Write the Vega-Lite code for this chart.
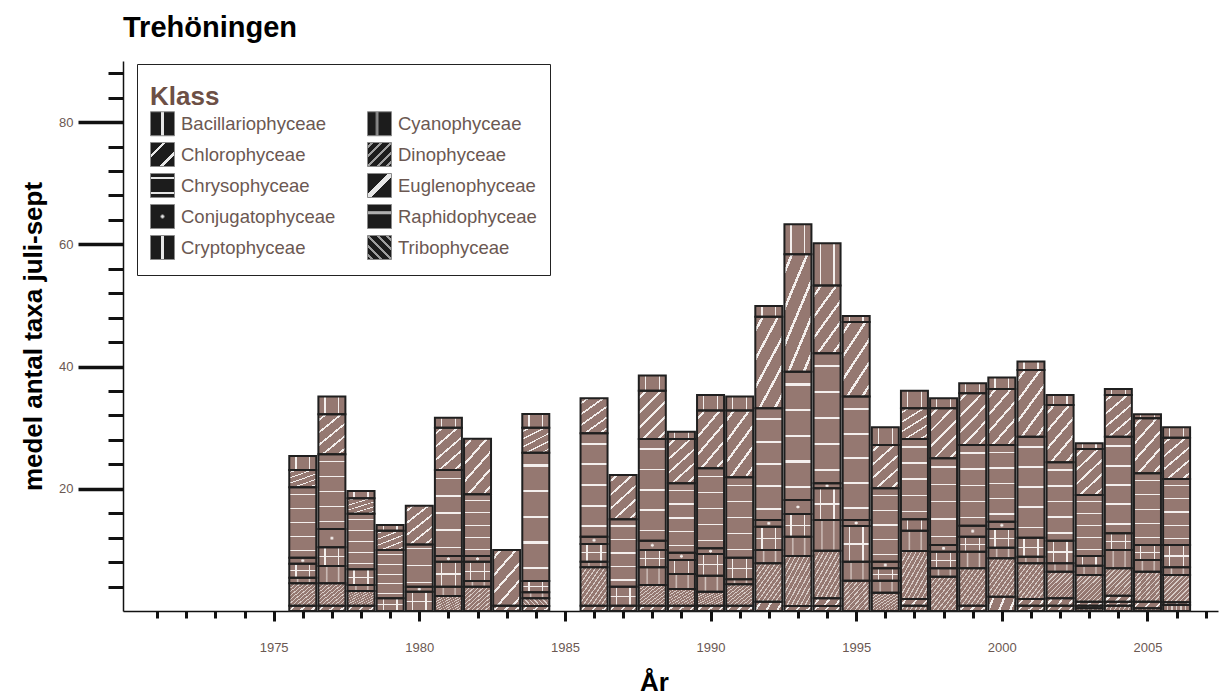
{
  "$schema": "https://vega.github.io/schema/vega-lite/v6.json",
  "autosize": {"type": "none"},
  "width": 1095,
  "height": 550,
  "padding": {"left": 123, "top": 61, "right": 2, "bottom": 84},
  "background": "#ffffff",
  "config": {"view": {"stroke": null}, "font": "Liberation Sans"},
  "title": {"text": "Trehöningen", "anchor": "start", "frame": "group", "font": "Liberation Sans", "fontSize": 29, "fontWeight": "bold", "color": "#000000", "offset": 18},
  "data": {"values": [
    {"year":1976,"klass":"Bacillariophyceae","taxa":2.29},{"year":1976,"klass":"Chlorophyceae","taxa":2.84},{"year":1976,"klass":"Chrysophyceae","taxa":11.51},{"year":1976,"klass":"Conjugatophyceae","taxa":0.98},{"year":1976,"klass":"Cryptophyceae","taxa":2.29},{"year":1976,"klass":"Cyanophyceae","taxa":0.93},{"year":1976,"klass":"Dinophyceae","taxa":3.66},{"year":1976,"klass":"Euglenophyceae","taxa":0.87},
    {"year":1977,"klass":"Bacillariophyceae","taxa":2.89},{"year":1977,"klass":"Chlorophyceae","taxa":6.55},{"year":1977,"klass":"Chrysophyceae","taxa":12.22},{"year":1977,"klass":"Conjugatophyceae","taxa":3.0},{"year":1977,"klass":"Cryptophyceae","taxa":3.05},{"year":1977,"klass":"Cyanophyceae","taxa":2.84},{"year":1977,"klass":"Dinophyceae","taxa":3.66},{"year":1977,"klass":"Euglenophyceae","taxa":0.87},
    {"year":1978,"klass":"Bacillariophyceae","taxa":1.2},{"year":1978,"klass":"Chlorophyceae","taxa":2.51},{"year":1978,"klass":"Chrysophyceae","taxa":9.11},{"year":1978,"klass":"Cryptophyceae","taxa":2.56},{"year":1978,"klass":"Cyanophyceae","taxa":0.99},{"year":1978,"klass":"Dinophyceae","taxa":2.4},{"year":1978,"klass":"Euglenophyceae","taxa":0.87},
    {"year":1979,"klass":"Bacillariophyceae","taxa":0.93},{"year":1979,"klass":"Chlorophyceae","taxa":3.17},{"year":1979,"klass":"Chrysophyceae","taxa":7.91},{"year":1979,"klass":"Cryptophyceae","taxa":2.07},
    {"year":1980,"klass":"Chlorophyceae","taxa":6.34},{"year":1980,"klass":"Chrysophyceae","taxa":6.92},{"year":1980,"klass":"Conjugatophyceae","taxa":0.82},{"year":1980,"klass":"Cryptophyceae","taxa":3.16},
    {"year":1981,"klass":"Bacillariophyceae","taxa":1.64},{"year":1981,"klass":"Chlorophyceae","taxa":6.92},{"year":1981,"klass":"Chrysophyceae","taxa":14.08},{"year":1981,"klass":"Conjugatophyceae","taxa":0.93},{"year":1981,"klass":"Cryptophyceae","taxa":4.09},{"year":1981,"klass":"Cyanophyceae","taxa":1.53},{"year":1981,"klass":"Dinophyceae","taxa":2.45},
    {"year":1982,"klass":"Chlorophyceae","taxa":9.11},{"year":1982,"klass":"Chrysophyceae","taxa":10.09},{"year":1982,"klass":"Conjugatophyceae","taxa":0.93},{"year":1982,"klass":"Cryptophyceae","taxa":3.16},{"year":1982,"klass":"Cyanophyceae","taxa":0.93},{"year":1982,"klass":"Dinophyceae","taxa":3.98},
    {"year":1983,"klass":"Chlorophyceae","taxa":9.11},{"year":1983,"klass":"Euglenophyceae","taxa":0.87},
    {"year":1984,"klass":"Bacillariophyceae","taxa":2.24},{"year":1984,"klass":"Chlorophyceae","taxa":4.09},{"year":1984,"klass":"Chrysophyceae","taxa":21.0},{"year":1984,"klass":"Cryptophyceae","taxa":1.85},{"year":1984,"klass":"Cyanophyceae","taxa":0.99},{"year":1984,"klass":"Dinophyceae","taxa":1.25},{"year":1984,"klass":"Euglenophyceae","taxa":0.82},
    {"year":1986,"klass":"Chlorophyceae","taxa":5.73},{"year":1986,"klass":"Chrysophyceae","taxa":16.91},{"year":1986,"klass":"Conjugatophyceae","taxa":1.2},{"year":1986,"klass":"Cryptophyceae","taxa":2.9},{"year":1986,"klass":"Cyanophyceae","taxa":0.92},{"year":1986,"klass":"Dinophyceae","taxa":6.28},{"year":1986,"klass":"Euglenophyceae","taxa":0.87},
    {"year":1987,"klass":"Chlorophyceae","taxa":7.26},{"year":1987,"klass":"Chrysophyceae","taxa":11.02},{"year":1987,"klass":"Cryptophyceae","taxa":3.11},{"year":1987,"klass":"Euglenophyceae","taxa":0.87},
    {"year":1988,"klass":"Bacillariophyceae","taxa":2.46},{"year":1988,"klass":"Chlorophyceae","taxa":7.91},{"year":1988,"klass":"Chrysophyceae","taxa":16.64},{"year":1988,"klass":"Conjugatophyceae","taxa":1.53},{"year":1988,"klass":"Cryptophyceae","taxa":2.83},{"year":1988,"klass":"Cyanophyceae","taxa":2.89},{"year":1988,"klass":"Dinophyceae","taxa":3.39},{"year":1988,"klass":"Euglenophyceae","taxa":0.87},
    {"year":1989,"klass":"Bacillariophyceae","taxa":1.2},{"year":1989,"klass":"Chlorophyceae","taxa":7.25},{"year":1989,"klass":"Chrysophyceae","taxa":11.35},{"year":1989,"klass":"Conjugatophyceae","taxa":1.2},{"year":1989,"klass":"Cryptophyceae","taxa":2.29},{"year":1989,"klass":"Cyanophyceae","taxa":2.46},{"year":1989,"klass":"Dinophyceae","taxa":2.73},{"year":1989,"klass":"Euglenophyceae","taxa":0.87},
    {"year":1990,"klass":"Bacillariophyceae","taxa":2.56},{"year":1990,"klass":"Chlorophyceae","taxa":9.44},{"year":1990,"klass":"Chrysophyceae","taxa":13.09},{"year":1990,"klass":"Conjugatophyceae","taxa":0.93},{"year":1990,"klass":"Cryptophyceae","taxa":3.55},{"year":1990,"klass":"Cyanophyceae","taxa":2.62},{"year":1990,"klass":"Dinophyceae","taxa":2.29},{"year":1990,"klass":"Euglenophyceae","taxa":0.87},
    {"year":1991,"klass":"Bacillariophyceae","taxa":2.29},{"year":1991,"klass":"Chlorophyceae","taxa":10.91},{"year":1991,"klass":"Chrysophyceae","taxa":13.15},{"year":1991,"klass":"Cryptophyceae","taxa":3.55},{"year":1991,"klass":"Cyanophyceae","taxa":0.82},{"year":1991,"klass":"Dinophyceae","taxa":3.49},{"year":1991,"klass":"Euglenophyceae","taxa":0.87},
    {"year":1992,"klass":"Bacillariophyceae","taxa":1.75},{"year":1992,"klass":"Chlorophyceae","taxa":15.0},{"year":1992,"klass":"Chrysophyceae","taxa":18.28},{"year":1992,"klass":"Conjugatophyceae","taxa":1.09},{"year":1992,"klass":"Cryptophyceae","taxa":3.82},{"year":1992,"klass":"Cyanophyceae","taxa":2.18},{"year":1992,"klass":"Dinophyceae","taxa":6.27},{"year":1992,"klass":"Euglenophyceae","taxa":1.53},
    {"year":1993,"klass":"Bacillariophyceae","taxa":4.93},{"year":1993,"klass":"Chlorophyceae","taxa":19.2},{"year":1993,"klass":"Chrysophyceae","taxa":21.0},{"year":1993,"klass":"Conjugatophyceae","taxa":2.29},{"year":1993,"klass":"Cryptophyceae","taxa":3.71},{"year":1993,"klass":"Cyanophyceae","taxa":3.17},{"year":1993,"klass":"Dinophyceae","taxa":8.18},{"year":1993,"klass":"Euglenophyceae","taxa":0.82},
    {"year":1994,"klass":"Bacillariophyceae","taxa":6.92},{"year":1994,"klass":"Chlorophyceae","taxa":11.08},{"year":1994,"klass":"Chrysophyceae","taxa":21.27},{"year":1994,"klass":"Conjugatophyceae","taxa":0.82},{"year":1994,"klass":"Cryptophyceae","taxa":5.19},{"year":1994,"klass":"Cyanophyceae","taxa":5.02},{"year":1994,"klass":"Dinophyceae","taxa":7.8},{"year":1994,"klass":"Euglenophyceae","taxa":1.25},{"year":1994,"klass":"Raphidophyceae","taxa":0.82},
    {"year":1995,"klass":"Bacillariophyceae","taxa":0.98},{"year":1995,"klass":"Chlorophyceae","taxa":12.22},{"year":1995,"klass":"Chrysophyceae","taxa":20.19},{"year":1995,"klass":"Conjugatophyceae","taxa":0.98},{"year":1995,"klass":"Cryptophyceae","taxa":5.84},{"year":1995,"klass":"Cyanophyceae","taxa":3.11},{"year":1995,"klass":"Dinophyceae","taxa":4.96},
    {"year":1996,"klass":"Bacillariophyceae","taxa":2.89},{"year":1996,"klass":"Chlorophyceae","taxa":7.09},{"year":1996,"klass":"Chrysophyceae","taxa":12.01},{"year":1996,"klass":"Conjugatophyceae","taxa":1.09},{"year":1996,"klass":"Cryptophyceae","taxa":2.02},{"year":1996,"klass":"Cyanophyceae","taxa":1.96},{"year":1996,"klass":"Dinophyceae","taxa":3.0},
    {"year":1997,"klass":"Bacillariophyceae","taxa":2.89},{"year":1997,"klass":"Chlorophyceae","taxa":5.02},{"year":1997,"klass":"Chrysophyceae","taxa":13.15},{"year":1997,"klass":"Cryptophyceae","taxa":1.85},{"year":1997,"klass":"Cyanophyceae","taxa":3.33},{"year":1997,"klass":"Dinophyceae","taxa":7.86},{"year":1997,"klass":"Euglenophyceae","taxa":1.09},{"year":1997,"klass":"Tribophyceae","taxa":0.87},
    {"year":1998,"klass":"Bacillariophyceae","taxa":1.64},{"year":1998,"klass":"Chlorophyceae","taxa":8.18},{"year":1998,"klass":"Chrysophyceae","taxa":14.19},{"year":1998,"klass":"Conjugatophyceae","taxa":1.09},{"year":1998,"klass":"Cryptophyceae","taxa":2.73},{"year":1998,"klass":"Cyanophyceae","taxa":1.36},{"year":1998,"klass":"Dinophyceae","taxa":5.62},
    {"year":1999,"klass":"Bacillariophyceae","taxa":1.64},{"year":1999,"klass":"Chlorophyceae","taxa":8.45},{"year":1999,"klass":"Chrysophyceae","taxa":13.2},{"year":1999,"klass":"Conjugatophyceae","taxa":1.8},{"year":1999,"klass":"Cryptophyceae","taxa":2.46},{"year":1999,"klass":"Cyanophyceae","taxa":2.73},{"year":1999,"klass":"Dinophyceae","taxa":6.11},{"year":1999,"klass":"Euglenophyceae","taxa":0.87},
    {"year":2000,"klass":"Bacillariophyceae","taxa":1.86},{"year":2000,"klass":"Chlorophyceae","taxa":9.16},{"year":2000,"klass":"Chrysophyceae","taxa":12.55},{"year":2000,"klass":"Conjugatophyceae","taxa":1.2},{"year":2000,"klass":"Cryptophyceae","taxa":3.05},{"year":2000,"klass":"Cyanophyceae","taxa":1.75},{"year":2000,"klass":"Dinophyceae","taxa":6.27},{"year":2000,"klass":"Euglenophyceae","taxa":2.35},
    {"year":2001,"klass":"Bacillariophyceae","taxa":1.37},{"year":2001,"klass":"Chlorophyceae","taxa":10.91},{"year":2001,"klass":"Chrysophyceae","taxa":16.53},{"year":2001,"klass":"Cryptophyceae","taxa":3.11},{"year":2001,"klass":"Cyanophyceae","taxa":1.09},{"year":2001,"klass":"Dinophyceae","taxa":5.84},{"year":2001,"klass":"Euglenophyceae","taxa":1.09},{"year":2001,"klass":"Raphidophyceae","taxa":0.87},
    {"year":2002,"klass":"Bacillariophyceae","taxa":1.63},{"year":2002,"klass":"Chlorophyceae","taxa":9.39},{"year":2002,"klass":"Chrysophyceae","taxa":12.82},{"year":2002,"klass":"Cryptophyceae","taxa":3.71},{"year":2002,"klass":"Cyanophyceae","taxa":1.36},{"year":2002,"klass":"Dinophyceae","taxa":4.37},{"year":2002,"klass":"Euglenophyceae","taxa":1.2},{"year":2002,"klass":"Raphidophyceae","taxa":0.87},
    {"year":2003,"klass":"Bacillariophyceae","taxa":0.93},{"year":2003,"klass":"Chlorophyceae","taxa":7.52},{"year":2003,"klass":"Chrysophyceae","taxa":9.99},{"year":2003,"klass":"Cryptophyceae","taxa":1.58},{"year":2003,"klass":"Cyanophyceae","taxa":1.53},{"year":2003,"klass":"Dinophyceae","taxa":4.36},{"year":2003,"klass":"Euglenophyceae","taxa":0.66},{"year":2003,"klass":"Raphidophyceae","taxa":0.43},{"year":2003,"klass":"Tribophyceae","taxa":0.44},
    {"year":2004,"klass":"Bacillariophyceae","taxa":0.98},{"year":2004,"klass":"Chlorophyceae","taxa":6.82},{"year":2004,"klass":"Chrysophyceae","taxa":15.82},{"year":2004,"klass":"Cryptophyceae","taxa":2.73},{"year":2004,"klass":"Cyanophyceae","taxa":3.0},{"year":2004,"klass":"Dinophyceae","taxa":4.47},{"year":2004,"klass":"Euglenophyceae","taxa":0.98},{"year":2004,"klass":"Raphidophyceae","taxa":0.66},{"year":2004,"klass":"Tribophyceae","taxa":0.87},
    {"year":2005,"klass":"Bacillariophyceae","taxa":0.66},{"year":2005,"klass":"Chlorophyceae","taxa":9.0},{"year":2005,"klass":"Chrysophyceae","taxa":11.73},{"year":2005,"klass":"Cryptophyceae","taxa":2.45},{"year":2005,"klass":"Cyanophyceae","taxa":1.91},{"year":2005,"klass":"Dinophyceae","taxa":4.91},{"year":2005,"klass":"Euglenophyceae","taxa":1.09},{"year":2005,"klass":"Tribophyceae","taxa":0.44},
    {"year":2006,"klass":"Bacillariophyceae","taxa":1.69},{"year":2006,"klass":"Chlorophyceae","taxa":6.77},{"year":2006,"klass":"Chrysophyceae","taxa":10.8},{"year":2006,"klass":"Cryptophyceae","taxa":3.65},{"year":2006,"klass":"Cyanophyceae","taxa":1.26},{"year":2006,"klass":"Dinophyceae","taxa":4.47},{"year":2006,"klass":"Euglenophyceae","taxa":0.44},{"year":2006,"klass":"Tribophyceae","taxa":0.98}
  ]},
  "resolve": {"axis": {"x": "independent", "y": "independent"}},
  "layer": [
    {
      "mark": {"type": "bar", "width": 27},
      "encoding": {
        "x": {"field": "year", "type": "quantitative", "scale": {"domain": [1970, 2007.25], "nice": false, "zero": false},
          "axis": {"orient": "bottom", "values": [1971,1972,1973,1974,1975,1976,1977,1978,1979,1980,1981,1982,1983,1984,1985,1986,1987,1988,1989,1990,1991,1992,1993,1994,1995,1996,1997,1998,1999,2000,2001,2002,2003,2004,2005,2006,2007],
            "labels": false, "title": null, "grid": false, "tickSize": 7, "tickWidth": 3, "tickColor": "#111111", "domain": true, "domainColor": "#111111", "domainWidth": 1.5}},
        "y": {"field": "taxa", "type": "quantitative", "stack": "zero", "scale": {"domain": [0, 90], "nice": false},
          "axis": {"orient": "left", "values": [4,8,12,16,24,28,32,36,44,48,52,56,64,68,72,76,84,88],
            "labels": false, "title": null, "grid": false, "tickSize": 15, "tickWidth": 3, "tickColor": "#111111", "domain": true, "domainColor": "#111111", "domainWidth": 1.5}},
        "order": {"field": "klass", "sort": "descending"},
        "detail": {"field": "klass"},
        "fill": {
          "field": "klass", "type": "nominal",
          "scale": {
            "domain": ["Bacillariophyceae","Chlorophyceae","Chrysophyceae","Conjugatophyceae","Cryptophyceae","Cyanophyceae","Dinophyceae","Euglenophyceae","Raphidophyceae","Tribophyceae"],
            "range": [
              {"expr": "{gradient:'linear',x1:0,y1:0,x2:1,y2:0,stops:[{offset:0,color:'#1c1c1c'},{offset:0.44,color:'#1c1c1c'},{offset:0.44,color:'#e6e6e6'},{offset:0.56,color:'#e6e6e6'},{offset:0.56,color:'#1c1c1c'},{offset:1,color:'#1c1c1c'}]}"},
              {"expr": "{gradient:'linear',x1:0,y1:0,x2:1,y2:1,stops:[{offset:0,color:'#1c1c1c'},{offset:0.25,color:'#1c1c1c'},{offset:0.25,color:'#e6e6e6'},{offset:0.33,color:'#e6e6e6'},{offset:0.33,color:'#1c1c1c'},{offset:0.67,color:'#1c1c1c'},{offset:0.67,color:'#e6e6e6'},{offset:0.75,color:'#e6e6e6'},{offset:0.75,color:'#1c1c1c'},{offset:1,color:'#1c1c1c'}]}"},
              {"expr": "{gradient:'linear',x1:0,y1:0,x2:0,y2:1,stops:[{offset:0,color:'#1c1c1c'},{offset:0.14,color:'#1c1c1c'},{offset:0.14,color:'#e6e6e6'},{offset:0.22,color:'#e6e6e6'},{offset:0.22,color:'#1c1c1c'},{offset:0.78,color:'#1c1c1c'},{offset:0.78,color:'#e6e6e6'},{offset:0.86,color:'#e6e6e6'},{offset:0.86,color:'#1c1c1c'},{offset:1,color:'#1c1c1c'}]}"},
              {"expr": "{gradient:'radial',x1:0.5,y1:0.5,r1:0,x2:0.5,y2:0.5,r2:0.5,stops:[{offset:0,color:'#e6e6e6'},{offset:0.12,color:'#e6e6e6'},{offset:0.17,color:'#1c1c1c'},{offset:1,color:'#1c1c1c'}]}"},
              {"expr": "{gradient:'linear',x1:0,y1:0,x2:1,y2:0,stops:[{offset:0,color:'#1c1c1c'},{offset:0.44,color:'#1c1c1c'},{offset:0.44,color:'#e6e6e6'},{offset:0.56,color:'#e6e6e6'},{offset:0.56,color:'#1c1c1c'},{offset:1,color:'#1c1c1c'}]}"},
              {"expr": "{gradient:'linear',x1:0,y1:0,x2:1,y2:0,stops:[{offset:0,color:'#1c1c1c'},{offset:0.3,color:'#1c1c1c'},{offset:0.4,color:'#a0a0a0'},{offset:0.5,color:'#1c1c1c'},{offset:1,color:'#1c1c1c'}]}"},
              {"expr": "{gradient:'linear',x1:0,y1:0,x2:1,y2:1,stops:[{offset:0,color:'#1c1c1c'},{offset:0.07,color:'#1c1c1c'},{offset:0.07,color:'#9d9d9d'},{offset:0.13,color:'#9d9d9d'},{offset:0.13,color:'#1c1c1c'},{offset:0.27,color:'#1c1c1c'},{offset:0.27,color:'#9d9d9d'},{offset:0.33,color:'#9d9d9d'},{offset:0.33,color:'#1c1c1c'},{offset:0.47,color:'#1c1c1c'},{offset:0.47,color:'#9d9d9d'},{offset:0.53,color:'#9d9d9d'},{offset:0.53,color:'#1c1c1c'},{offset:0.67,color:'#1c1c1c'},{offset:0.67,color:'#9d9d9d'},{offset:0.73,color:'#9d9d9d'},{offset:0.73,color:'#1c1c1c'},{offset:0.87,color:'#1c1c1c'},{offset:0.87,color:'#9d9d9d'},{offset:0.93,color:'#9d9d9d'},{offset:0.93,color:'#1c1c1c'},{offset:1,color:'#1c1c1c'}]}"},
              {"expr": "{gradient:'linear',x1:0,y1:0,x2:1,y2:1,stops:[{offset:0,color:'#1c1c1c'},{offset:0.42,color:'#1c1c1c'},{offset:0.42,color:'#e6e6e6'},{offset:0.58,color:'#e6e6e6'},{offset:0.58,color:'#1c1c1c'},{offset:1,color:'#1c1c1c'}]}"},
              {"expr": "{gradient:'linear',x1:0,y1:0,x2:0,y2:1,stops:[{offset:0,color:'#1c1c1c'},{offset:0.25,color:'#1c1c1c'},{offset:0.3,color:'#b0b0b0'},{offset:0.38,color:'#b0b0b0'},{offset:0.43,color:'#1c1c1c'},{offset:1,color:'#1c1c1c'}]}"},
              {"expr": "{gradient:'linear',x1:0,y1:1,x2:1,y2:0,stops:[{offset:0,color:'#1c1c1c'},{offset:0.07,color:'#1c1c1c'},{offset:0.07,color:'#9d9d9d'},{offset:0.13,color:'#9d9d9d'},{offset:0.13,color:'#1c1c1c'},{offset:0.27,color:'#1c1c1c'},{offset:0.27,color:'#9d9d9d'},{offset:0.33,color:'#9d9d9d'},{offset:0.33,color:'#1c1c1c'},{offset:0.47,color:'#1c1c1c'},{offset:0.47,color:'#9d9d9d'},{offset:0.53,color:'#9d9d9d'},{offset:0.53,color:'#1c1c1c'},{offset:0.67,color:'#1c1c1c'},{offset:0.67,color:'#9d9d9d'},{offset:0.73,color:'#9d9d9d'},{offset:0.73,color:'#1c1c1c'},{offset:0.87,color:'#1c1c1c'},{offset:0.87,color:'#9d9d9d'},{offset:0.93,color:'#9d9d9d'},{offset:0.93,color:'#1c1c1c'},{offset:1,color:'#1c1c1c'}]}"}
            ]
          },
          "condition": [
            {"test": "datum.klass === 'Bacillariophyceae' || datum.klass === 'Cryptophyceae'", "value": {"gradient":"linear","x1":0,"y1":0,"x2":1,"y2":0,"stops":[{"offset":0,"color":"#957871"},{"offset":0.22,"color":"#957871"},{"offset":0.22,"color":"#f4efed"},{"offset":0.27,"color":"#f4efed"},{"offset":0.27,"color":"#957871"},{"offset":0.73,"color":"#957871"},{"offset":0.73,"color":"#f4efed"},{"offset":0.78,"color":"#f4efed"},{"offset":0.78,"color":"#957871"},{"offset":1,"color":"#957871"}]}},
            {"test": "datum.klass === 'Chlorophyceae'", "value": {"gradient":"linear","x1":0,"y1":0,"x2":0.655,"y2":1.19,"stops":[{"offset":0,"color":"#957871"},{"offset":0.082,"color":"#957871"},{"offset":0.082,"color":"#f4efed"},{"offset":0.118,"color":"#f4efed"},{"offset":0.118,"color":"#957871"},{"offset":0.282,"color":"#957871"},{"offset":0.282,"color":"#f4efed"},{"offset":0.318,"color":"#f4efed"},{"offset":0.318,"color":"#957871"},{"offset":0.482,"color":"#957871"},{"offset":0.482,"color":"#f4efed"},{"offset":0.518,"color":"#f4efed"},{"offset":0.518,"color":"#957871"},{"offset":0.682,"color":"#957871"},{"offset":0.682,"color":"#f4efed"},{"offset":0.718,"color":"#f4efed"},{"offset":0.718,"color":"#957871"},{"offset":0.882,"color":"#957871"},{"offset":0.882,"color":"#f4efed"},{"offset":0.918,"color":"#f4efed"},{"offset":0.918,"color":"#957871"},{"offset":1,"color":"#957871"}]}},
            {"test": "datum.klass === 'Chrysophyceae'", "value": {"gradient":"linear","x1":0,"y1":0,"x2":0,"y2":1,"stops":[{"offset":0,"color":"#957871"},{"offset":0.091,"color":"#957871"},{"offset":0.091,"color":"#f4efed"},{"offset":0.109,"color":"#f4efed"},{"offset":0.109,"color":"#957871"},{"offset":0.291,"color":"#957871"},{"offset":0.291,"color":"#f4efed"},{"offset":0.309,"color":"#f4efed"},{"offset":0.309,"color":"#957871"},{"offset":0.491,"color":"#957871"},{"offset":0.491,"color":"#f4efed"},{"offset":0.509,"color":"#f4efed"},{"offset":0.509,"color":"#957871"},{"offset":0.691,"color":"#957871"},{"offset":0.691,"color":"#f4efed"},{"offset":0.709,"color":"#f4efed"},{"offset":0.709,"color":"#957871"},{"offset":0.891,"color":"#957871"},{"offset":0.891,"color":"#f4efed"},{"offset":0.909,"color":"#f4efed"},{"offset":0.909,"color":"#957871"},{"offset":1,"color":"#957871"}]}},
            {"test": "datum.klass === 'Conjugatophyceae'", "value": {"gradient":"radial","x1":0.5,"y1":0.5,"r1":0,"x2":0.5,"y2":0.5,"r2":0.5,"stops":[{"offset":0,"color":"#f4efed"},{"offset":0.09,"color":"#f4efed"},{"offset":0.13,"color":"#957871"},{"offset":1,"color":"#957871"}]}},
            {"test": "datum.klass === 'Cyanophyceae'", "value": {"gradient":"linear","x1":0,"y1":0,"x2":1,"y2":0,"stops":[{"offset":0,"color":"#957871"},{"offset":0.26,"color":"#957871"},{"offset":0.31,"color":"#d6c8c3"},{"offset":0.36,"color":"#957871"},{"offset":0.7,"color":"#957871"},{"offset":0.75,"color":"#d6c8c3"},{"offset":0.8,"color":"#957871"},{"offset":1,"color":"#957871"}]}},
            {"test": "datum.klass === 'Dinophyceae' || datum.klass === 'Tribophyceae'", "value": {"gradient":"linear","x1":0,"y1":0,"x2":1,"y2":1,"stops":[{"offset":0,"color":"#957871"},{"offset":0.0297,"color":"#957871"},{"offset":0.0297,"color":"#d8ccc7"},{"offset":0.0537,"color":"#d8ccc7"},{"offset":0.0537,"color":"#957871"},{"offset":0.113,"color":"#957871"},{"offset":0.113,"color":"#d8ccc7"},{"offset":0.137,"color":"#d8ccc7"},{"offset":0.137,"color":"#957871"},{"offset":0.1963,"color":"#957871"},{"offset":0.1963,"color":"#d8ccc7"},{"offset":0.2203,"color":"#d8ccc7"},{"offset":0.2203,"color":"#957871"},{"offset":0.2797,"color":"#957871"},{"offset":0.2797,"color":"#d8ccc7"},{"offset":0.3037,"color":"#d8ccc7"},{"offset":0.3037,"color":"#957871"},{"offset":0.363,"color":"#957871"},{"offset":0.363,"color":"#d8ccc7"},{"offset":0.387,"color":"#d8ccc7"},{"offset":0.387,"color":"#957871"},{"offset":0.4463,"color":"#957871"},{"offset":0.4463,"color":"#d8ccc7"},{"offset":0.4703,"color":"#d8ccc7"},{"offset":0.4703,"color":"#957871"},{"offset":0.5297,"color":"#957871"},{"offset":0.5297,"color":"#d8ccc7"},{"offset":0.5537,"color":"#d8ccc7"},{"offset":0.5537,"color":"#957871"},{"offset":0.613,"color":"#957871"},{"offset":0.613,"color":"#d8ccc7"},{"offset":0.637,"color":"#d8ccc7"},{"offset":0.637,"color":"#957871"},{"offset":0.6963,"color":"#957871"},{"offset":0.6963,"color":"#d8ccc7"},{"offset":0.7203,"color":"#d8ccc7"},{"offset":0.7203,"color":"#957871"},{"offset":0.7797,"color":"#957871"},{"offset":0.7797,"color":"#d8ccc7"},{"offset":0.8037,"color":"#d8ccc7"},{"offset":0.8037,"color":"#957871"},{"offset":0.863,"color":"#957871"},{"offset":0.863,"color":"#d8ccc7"},{"offset":0.887,"color":"#d8ccc7"},{"offset":0.887,"color":"#957871"},{"offset":0.9463,"color":"#957871"},{"offset":0.9463,"color":"#d8ccc7"},{"offset":0.9703,"color":"#d8ccc7"},{"offset":0.9703,"color":"#957871"},{"offset":1,"color":"#957871"}]}},
            {"test": "datum.klass === 'Euglenophyceae' || datum.klass === 'Raphidophyceae'", "value": {"gradient":"linear","x1":0,"y1":0,"x2":1.165,"y2":0.259,"stops":[{"offset":0,"color":"#957871"},{"offset":0.135,"color":"#957871"},{"offset":0.135,"color":"#f4efed"},{"offset":0.205,"color":"#f4efed"},{"offset":0.205,"color":"#957871"},{"offset":0.465,"color":"#957871"},{"offset":0.465,"color":"#f4efed"},{"offset":0.535,"color":"#f4efed"},{"offset":0.535,"color":"#957871"},{"offset":0.795,"color":"#957871"},{"offset":0.795,"color":"#f4efed"},{"offset":0.865,"color":"#f4efed"},{"offset":0.865,"color":"#957871"},{"offset":1,"color":"#957871"}]}}
          ],
          "legend": {
            "title": "Klass\u00a0\u00a0\u00a0\u00a0\u00a0\u00a0\u00a0\u00a0\u00a0\u00a0\u00a0\u00a0\u00a0\u00a0\u00a0\u00a0\u00a0\u00a0\u00a0\u00a0\u00a0\u00a0\u00a0\u00a0\u00a0\u00a0\u00a0\u00a0\u00a0\u00a0\u00a0\u00a0\u00a0\u00a0\u00a0\u00a0\u00a0\u00a0\u00a0\u00a0\u00a0\u00a0\u00a0\u00a0\u00a0\u00a0\u00a0",
            "orient": "none", "legendX": 14, "legendY": 3, "columns": 2, "gridAlign": "all",
            "columnPadding": 29, "rowPadding": 2, "padding": 13,
            "strokeColor": "#222222", "fillColor": "#ffffff",
            "symbolType": "square", "symbolSize": 576, "symbolStrokeWidth": 1, "symbolStrokeColor": "#8a8a8a", "symbolOpacity": 1,
            "labelFont": "Liberation Sans", "labelFontSize": 18.5, "labelColor": "#6b5852", "labelOffset": 6, "labelLimit": 300,
            "titleFont": "Liberation Sans", "titleFontSize": 26, "titleFontWeight": "bold", "titleColor": "#6d5046", "titleLimit": 500,
            "titleBaseline": "line-top", "titleLineHeight": 41, "titlePadding": 8
          }
        }
      }
    },
    {
      "mark": {"type": "bar", "width": 27, "stroke": "#1f1f1f", "strokeWidth": 2},
      "encoding": {
        "x": {"field": "year", "type": "quantitative", "scale": {"domain": [1970, 2007.25], "nice": false, "zero": false},
          "axis": {"orient": "bottom", "values": [1975,1980,1985,1990,1995,2000,2005], "format": "d",
            "grid": false, "domain": false, "tickSize": 10, "tickWidth": 3, "tickColor": "#111111",
            "labelFont": "Liberation Sans", "labelFontSize": 13, "labelColor": "#6b5852", "labelPadding": 20,
            "title": "År", "titleFont": "Liberation Sans", "titleFontSize": 26, "titleFontWeight": "bold", "titleColor": "#000000",
            "titleX": 531, "titleY": 79, "titleBaseline": "alphabetic", "titleAlign": "center"}},
        "y": {"field": "taxa", "type": "quantitative", "stack": "zero", "scale": {"domain": [0, 90], "nice": false},
          "axis": {"orient": "left", "values": [20, 40, 60, 80],
            "grid": false, "domain": false, "tickSize": 45, "tickWidth": 3.5, "tickColor": "#111111",
            "labelFont": "Liberation Sans", "labelFontSize": 13, "labelColor": "#6b5852", "labelPadding": 5,
            "title": "medel antal taxa juli-sept", "titleFont": "Liberation Sans", "titleFontSize": 26, "titleFontWeight": "bold", "titleColor": "#000000", "titlePadding": 12}},
        "order": {"field": "klass", "sort": "descending"},
        "detail": {"field": "klass"},
        "fill": {
          "condition": {"test": "datum.klass === 'Cryptophyceae'", "value": {"gradient":"linear","x1":0,"y1":0,"x2":0,"y2":1,"stops":[{"offset":0,"color":"rgba(255,255,255,0)"},{"offset":0.47,"color":"rgba(255,255,255,0)"},{"offset":0.47,"color":"#f4efed"},{"offset":0.53,"color":"#f4efed"},{"offset":0.53,"color":"rgba(255,255,255,0)"},{"offset":1,"color":"rgba(255,255,255,0)"}]}},
          "value": "transparent"
        }
      }
    }
  ]
}
